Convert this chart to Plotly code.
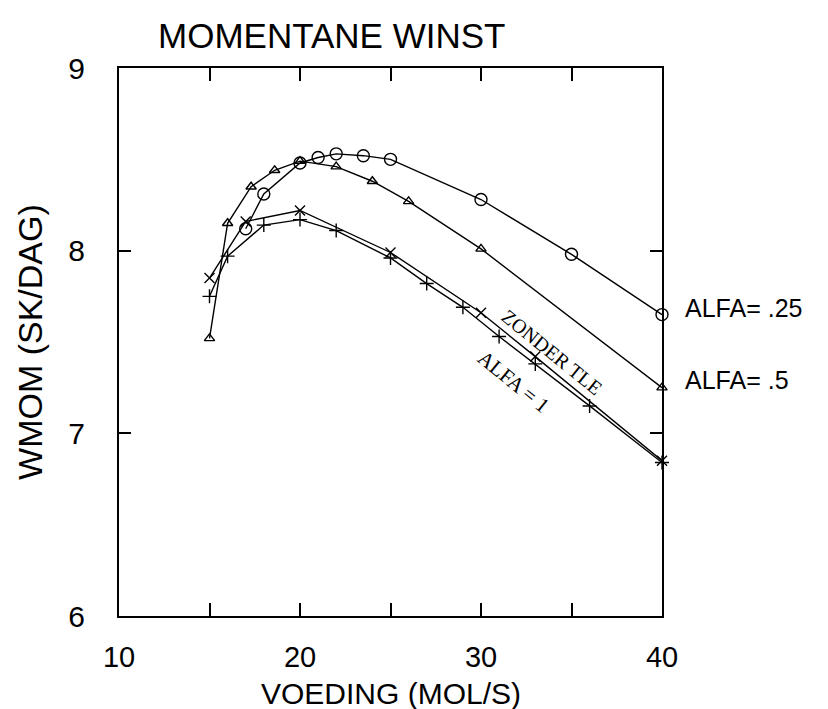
import plotly.graph_objects as go

# ---- data ----
x_alfa025 = [17, 18, 20, 21, 22, 23.5, 25, 30, 35, 40]
y_alfa025 = [8.12, 8.31, 8.48, 8.51, 8.53, 8.52, 8.50, 8.28, 7.98, 7.65]

x_alfa05 = [15, 16, 17.3, 18.6, 20, 22, 24, 26, 30, 40]
y_alfa05 = [7.52, 8.15, 8.35, 8.44, 8.49, 8.46, 8.38, 8.27, 8.01, 7.25]

x_zonder = [15, 17, 20, 25, 30, 33, 40]
y_zonder = [7.85, 8.16, 8.22, 7.99, 7.66, 7.42, 6.85]

x_alfa1 = [15, 16, 18, 20, 22, 25, 27, 29, 31, 33, 36, 40]
y_alfa1 = [7.75, 7.97, 8.14, 8.17, 8.11, 7.96, 7.82, 7.69, 7.53, 7.38, 7.15, 6.84]

x_tickvals = [10, 15, 20, 25, 30, 35, 40]
x_ticktext = ["10", "", "20", "", "30", "", "40"]
y_tickvals = [6, 7, 8, 9]
y_ticktext = ["6", "7", "8", "9"]

title_text = "MOMENTANE WINST"
x_title = "VOEDING (MOL/S)"
y_title = "WMOM (SK/DAG)"

FONT = "Liberation Sans"
SERIF = "Liberation Serif"

fig = go.Figure()

def add(xs, ys, symbol, size):
    fig.add_trace(go.Scatter(
        x=xs, y=ys, mode="lines+markers",
        line=dict(color="black", width=1.4),
        marker=dict(symbol=symbol, size=size, color="black",
                    line=dict(color="black", width=1.4)),
        showlegend=False, cliponaxis=False))

add(x_alfa025, y_alfa025, "circle-open", 12)
add(x_alfa05, y_alfa05, "triangle-up-open", 9)
add(x_zonder, y_zonder, "x-thin-open", 10)
add(x_alfa1, y_alfa1, "cross-thin-open", 10)

annotations = [
    dict(text=title_text, x=0.392, y=1.060, xref="paper", yref="paper",
         showarrow=False, font=dict(family=FONT, size=35, color="black"),
         xanchor="center", yanchor="middle"),
    dict(text=x_title, x=0.5, y=-0.142, xref="paper", yref="paper",
         showarrow=False, font=dict(family=FONT, size=30, color="black"),
         xanchor="center", yanchor="middle"),
    dict(text=y_title, x=-0.164, y=0.5, xref="paper", yref="paper", textangle=-90,
         showarrow=False, font=dict(family=FONT, size=34, color="black"),
         xanchor="center", yanchor="middle"),
    dict(text="ALFA= .25", x=1.0387, y=0.562, xref="paper", yref="paper",
         showarrow=False, font=dict(family=FONT, size=25, color="black"),
         xanchor="left", yanchor="middle"),
    dict(text="ALFA= .5", x=1.0387, y=0.4307, xref="paper", yref="paper",
         showarrow=False, font=dict(family=FONT, size=25, color="black"),
         xanchor="left", yanchor="middle"),
    dict(text="ZONDER TLE", x=33.92, y=7.446, xref="x", yref="y", textangle=39,
         showarrow=False, font=dict(family=SERIF, size=20, color="black"),
         xanchor="center", yanchor="middle"),
    dict(text="ALFA = 1", x=31.82, y=7.281, xref="x", yref="y", textangle=39,
         showarrow=False, font=dict(family=SERIF, size=21, color="black"),
         xanchor="center", yanchor="middle"),
]

fig.update_layout(
    width=828, height=709,
    margin=dict(l=119, r=166, t=68, b=93),
    paper_bgcolor="white", plot_bgcolor="white",
    annotations=annotations,
    xaxis=dict(range=[10, 40], tickvals=x_tickvals, ticktext=x_ticktext,
               ticks="inside", ticklen=13, tickwidth=1.5, tickcolor="black",
               showline=True, linecolor="black", linewidth=2, mirror="ticks",
               showgrid=False, zeroline=False, ticklabelstandoff=14,
               tickfont=dict(family=FONT, size=29, color="black")),
    yaxis=dict(range=[6, 9], tickvals=y_tickvals, ticktext=y_ticktext,
               ticks="inside", ticklen=12, tickwidth=1.5, tickcolor="black",
               showline=True, linecolor="black", linewidth=2, mirror="ticks",
               showgrid=False, zeroline=False, ticklabelstandoff=26,
               tickfont=dict(family=FONT, size=30, color="black")),
)

fig.write_html("out.html")
